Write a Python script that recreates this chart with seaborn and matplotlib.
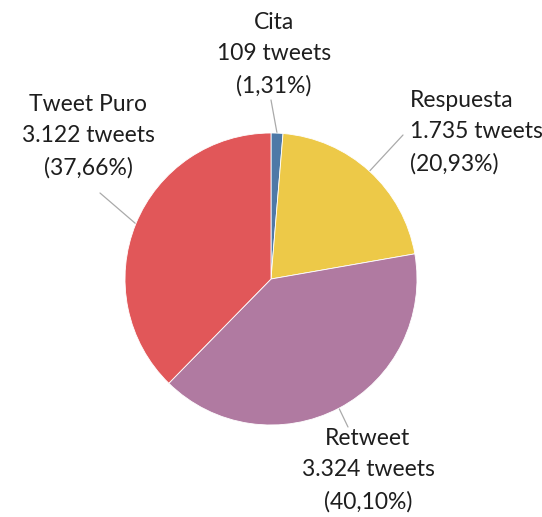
import numpy as np
import matplotlib
matplotlib.use("Agg")
import matplotlib.pyplot as plt
import seaborn as sns

categories = ["Cita", "Respuesta", "Retweet", "Tweet Puro"]
counts = [109, 1735, 3324, 3122]
colors = ["#4E79A7", "#EDC948", "#B07AA1", "#E15759"]

sns.set_theme(style="white")
plt.rcParams["font.family"] = ["Lato", "DejaVu Sans"]

W, H = 542, 517
fig = plt.figure(figsize=(W / 100, H / 100), dpi=100)
ax = fig.add_axes([0, 0, 1, 1])

cx, cy, R = 271, 279, 146
wedges, _ = ax.pie(counts, colors=sns.color_palette(colors), startangle=90,
                   counterclock=False, radius=1,
                   wedgeprops=dict(linewidth=0.6, edgecolor="white"))
ax.set_xlim(-cx / R, (W - cx) / R)
ax.set_ylim(-(H - cy) / R, cy / R)
ax.set_aspect("auto")
ax.axis("off")

def px(x, y):
    return ((x - cx) / R, (cy - y) / R)

def fmt_int(n):
    return f"{n:,}".replace(",", ".")

total = sum(counts)
label_pos = {
    "Cita": ((274, 54), "center", (271, 100)),
    "Respuesta": ((410, 132), "left", (403, 135)),
    "Retweet": ((368, 470), "center", (348, 427)),
    "Tweet Puro": ((88, 136), "center", (100, 193)),
}
for w, cat, n in zip(wedges, categories, counts):
    pct = n / total * 100
    pct_s = f"{pct:.2f}".replace(".", ",")
    txt = f"{cat}\n{fmt_int(n)} tweets\n({pct_s}%)"
    (tx, ty), ha, (lx, ly) = label_pos[cat]
    ang = np.deg2rad((w.theta1 + w.theta2) / 2)
    ex, ey = np.cos(ang), np.sin(ang)
    sx, sy = px(lx, ly)
    ax.plot([sx, ex], [sy, ey], color="#aaaaaa", lw=0.9, zorder=0)
    x, y = px(tx, ty)
    ax.text(x, y, txt, ha=ha, va="center",
            multialignment="center" if ha == "center" else "left",
            fontsize=16.5, color="#1e1e1e", linespacing=1.62)

fig.savefig("out.png", dpi=100, facecolor="white")
